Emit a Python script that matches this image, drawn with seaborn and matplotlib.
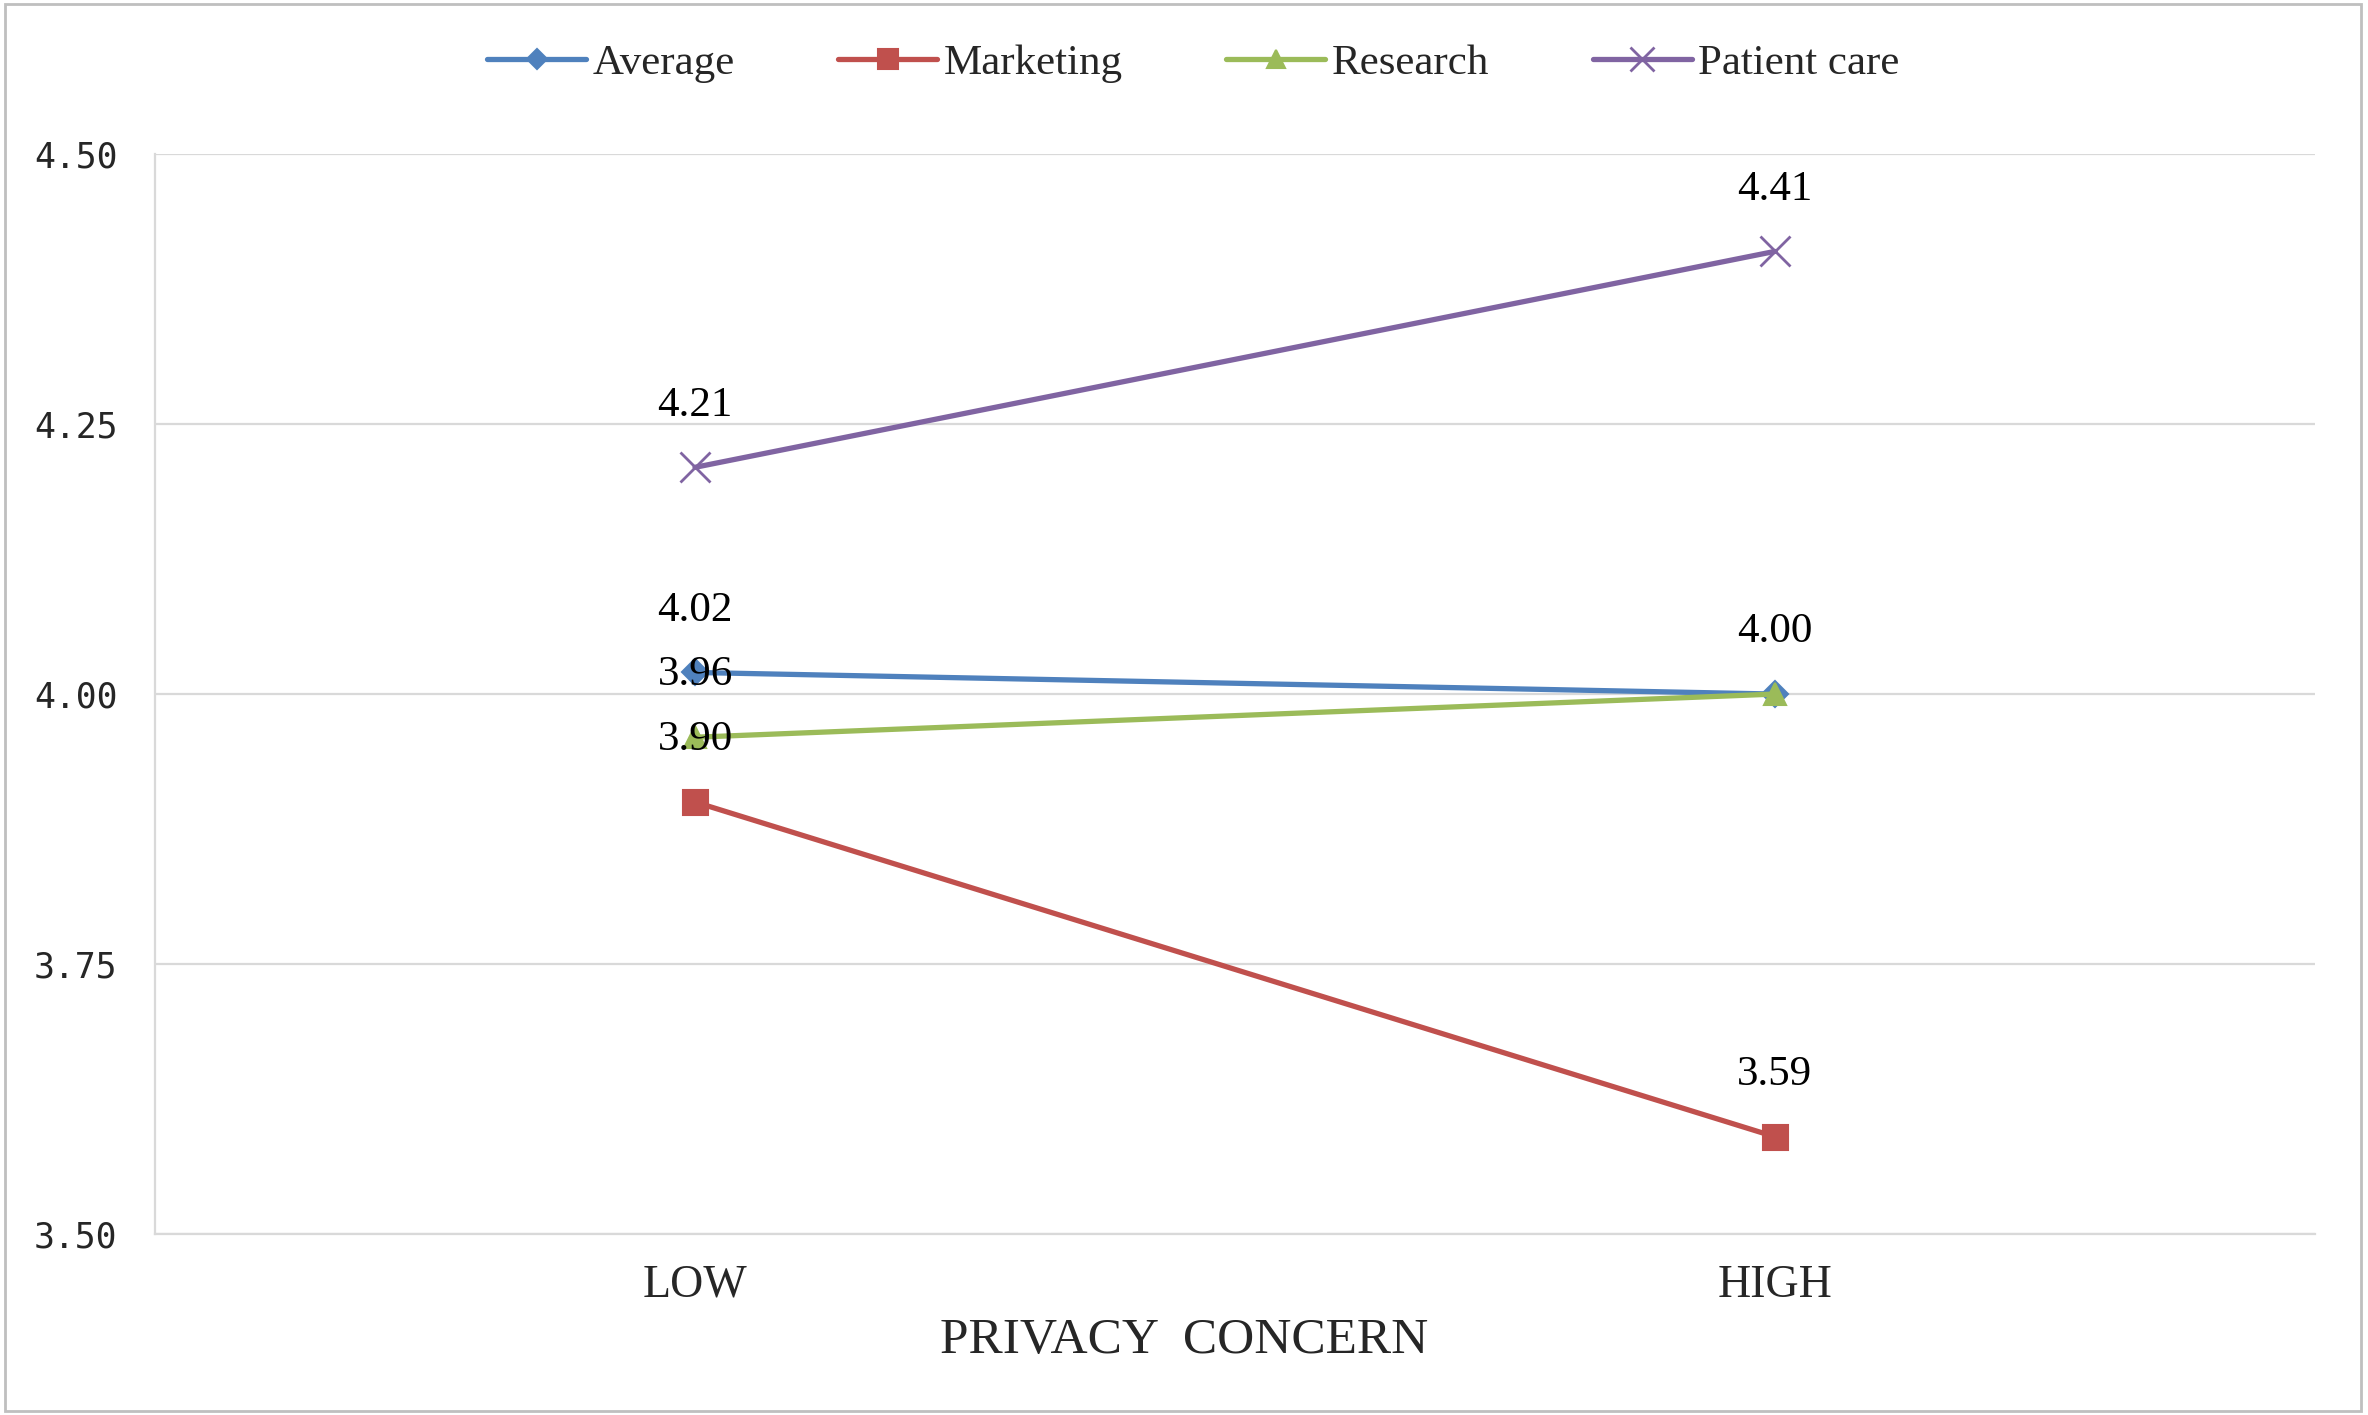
import matplotlib
matplotlib.use("Agg")
import matplotlib.pyplot as plt
import seaborn as sns
import pandas as pd
from matplotlib.patches import Rectangle
from matplotlib.lines import Line2D

# ---- data ----
categories = ["LOW", "HIGH"]
series_names = ["Average", "Marketing", "Research", "Patient care"]
average = [4.02, 4.00]
marketing = [3.90, 3.59]
research = [3.96, 4.00]
patient_care = [4.21, 4.41]
y_ticks = [3.50, 3.75, 4.00, 4.25, 4.50]
# which points carry a value label (series, category index)
labelled = [("Average", 0), ("Average", 1), ("Marketing", 0), ("Marketing", 1),
            ("Research", 0), ("Patient care", 0), ("Patient care", 1)]

values = {"Average": average, "Marketing": marketing,
          "Research": research, "Patient care": patient_care}
rows = []
for s in series_names:
    for i, c in enumerate(categories):
        rows.append({"series": s, "pos": i, "category": c, "value": values[s][i]})
df = pd.DataFrame(rows)

colors = {"Average": "#4F81BD", "Marketing": "#C0504D",
          "Research": "#9BBB59", "Patient care": "#8064A2"}
markers = {"Average": "D", "Marketing": "s", "Research": "^", "Patient care": "x"}
msizes = {"Average": 13, "Marketing": 18, "Research": 16, "Patient care": 22}

sns.set_theme(style="white")
plt.rcParams["font.family"] = ["Liberation Serif", "DejaVu Serif"]

fig = plt.figure(figsize=(23.68, 14.15), dpi=100)
ax = fig.add_axes([0.0655, 0.128, 0.912, 0.763])

for s in series_names:
    sub = df[df["series"] == s]
    sns.lineplot(data=sub, x="pos", y="value", color=colors[s],
                 marker=markers[s], markersize=msizes[s],
                 markeredgecolor=colors[s],
                 markeredgewidth=2 if s == "Patient care" else 1.5,
                 linewidth=3.8, ax=ax, legend=False)

for s, i in labelled:
    ax.annotate(f"{values[s][i]:.2f}", (i, values[s][i]),
                xytext=(0, 62), textcoords="offset pixels",
                ha="center", va="center", fontsize=31, color="black")

ax.set_xlim(-0.5, 1.5)
ax.set_ylim(3.5, 4.5)
ax.set_xticks(range(len(categories)))
ax.set_xticklabels(categories, fontsize=33)
ax.set_yticks(y_ticks)
ax.set_yticklabels([f"{v:.2f}" for v in y_ticks], fontsize=25,
                   family="DejaVu Sans Mono")
ax.tick_params(axis="x", length=0, pad=22)
ax.tick_params(axis="y", length=0, pad=27)
ax.set_xlabel("")
ax.set_ylabel("")
ax.grid(axis="y", color="#d9d9d9", linewidth=1.6)
ax.set_axisbelow(True)
for sp in ["top", "right"]:
    ax.spines[sp].set_visible(False)
ax.spines["left"].set_color("#d9d9d9")
ax.spines["bottom"].set_color("#d9d9d9")
ax.spines["left"].set_linewidth(1.6)
ax.spines["bottom"].set_linewidth(1.6)

fig.text(0.5, 1 - 1341 / 1415, "PRIVACY  CONCERN", ha="center", va="center",
         fontsize=37)

# legend
handles = [Line2D([0], [0], color=colors[s], marker=markers[s], linewidth=3.8,
                  markersize=msizes[s] * 0.8, markeredgecolor=colors[s],
                  markeredgewidth=2 if s == "Patient care" else 1.5)
           for s in series_names]
fig.legend(handles, series_names, loc="center", bbox_to_anchor=(0.504, 1 - 63 / 1415),
           ncol=4, frameon=False, fontsize=31, handlelength=2.3,
           handletextpad=0.15, columnspacing=2.4)

fig.patches.append(Rectangle((0.002, 0.003), 0.995, 0.994, transform=fig.transFigure,
                             fill=False, edgecolor="#bfbfbf", linewidth=2))

fig.savefig("out.png", dpi=100, facecolor="white")
